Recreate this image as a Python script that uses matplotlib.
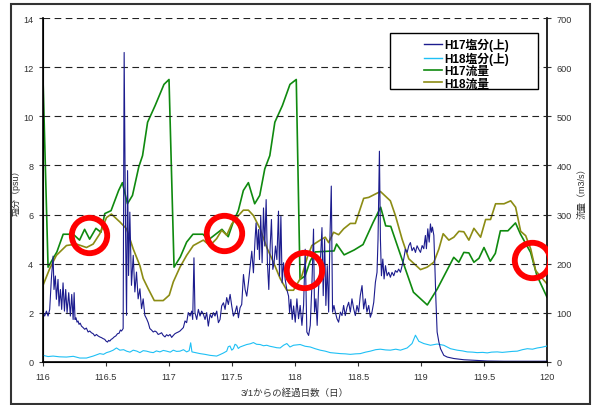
import numpy as np
import matplotlib
matplotlib.use('Agg')
import matplotlib.pyplot as plt
from matplotlib.lines import Line2D
from matplotlib.patches import Rectangle
from matplotlib.ticker import MultipleLocator, FuncFormatter

plt.rcParams['font.family'] = ['Liberation Sans', 'Noto Sans CJK JP']

# H17 塩分(上) [psu]
sal17_day = np.array([
    116.000, 116.013, 116.027, 116.040, 116.053, 116.066, 116.080, 116.087, 116.098, 116.106,
    116.119, 116.127, 116.138, 116.148, 116.159, 116.170, 116.180, 116.191, 116.204, 116.217,
    116.228, 116.239, 116.247, 116.254, 116.262, 116.270, 116.278, 116.286, 116.295, 116.305,
    116.318, 116.331, 116.344, 116.358, 116.371, 116.384, 116.398, 116.411, 116.424, 116.437,
    116.450, 116.464, 116.477, 116.490, 116.500, 116.512, 116.521, 116.530, 116.541, 116.551,
    116.565, 116.578, 116.591, 116.604, 116.614, 116.623, 116.636, 116.644, 116.655, 116.663,
    116.671, 116.679, 116.689, 116.702, 116.716, 116.729, 116.742, 116.755, 116.769, 116.782,
    116.795, 116.808, 116.822, 116.835, 116.848, 116.861, 116.875, 116.888, 116.901, 116.914,
    116.928, 116.941, 116.954, 116.968, 116.981, 116.994, 117.008, 117.021, 117.034, 117.047,
    117.061, 117.074, 117.087, 117.100, 117.114, 117.127, 117.140, 117.153, 117.167, 117.180,
    117.188, 117.198, 117.206, 117.220, 117.233, 117.246, 117.259, 117.273, 117.286, 117.299,
    117.312, 117.326, 117.339, 117.352, 117.365, 117.379, 117.392, 117.405, 117.418, 117.432,
    117.445, 117.458, 117.471, 117.485, 117.498, 117.511, 117.524, 117.538, 117.551, 117.564,
    117.577, 117.591, 117.604, 117.617, 117.630, 117.644, 117.657, 117.670, 117.683, 117.691,
    117.702, 117.710, 117.718, 117.728, 117.739, 117.750, 117.760, 117.771, 117.781, 117.792,
    117.803, 117.813, 117.824, 117.834, 117.845, 117.856, 117.869, 117.877, 117.888, 117.898,
    117.909, 117.922, 117.935, 117.949, 117.957, 117.967, 117.978, 117.989, 118.002, 118.015,
    118.028, 118.041, 118.055, 118.068, 118.081, 118.094, 118.108, 118.121, 118.134, 118.147,
    118.155, 118.166, 118.176, 118.187, 118.200, 118.214, 118.224, 118.235, 118.245, 118.256,
    118.267, 118.277, 118.288, 118.298, 118.309, 118.320, 118.333, 118.346, 118.360, 118.373,
    118.386, 118.399, 118.413, 118.426, 118.439, 118.452, 118.466, 118.479, 118.492, 118.505,
    118.518, 118.532, 118.545, 118.558, 118.571, 118.585, 118.598, 118.611, 118.625, 118.638,
    118.651, 118.659, 118.670, 118.678, 118.686, 118.697, 118.707, 118.718, 118.731, 118.744,
    118.757, 118.770, 118.784, 118.797, 118.810, 118.823, 118.837, 118.850, 118.863, 118.876,
    118.890, 118.903, 118.916, 118.929, 118.943, 118.956, 118.969, 118.982, 118.996, 119.009,
    119.022, 119.035, 119.043, 119.054, 119.065, 119.075, 119.083, 119.091, 119.102, 119.110,
    119.118, 119.128, 119.142, 119.155, 119.181, 119.208, 119.261, 119.341, 119.420, 119.526,
    119.658, 119.800, 120.000])
sal17 = np.array([
    2.01, 1.87, 2.07, 1.87, 2.14, 3.36, 4.31, 2.95, 3.50, 2.55,
    3.36, 2.28, 2.95, 2.14, 3.22, 2.07, 2.95, 2.01, 2.82, 1.87,
    2.75, 1.73, 2.82, 1.73, 1.80, 1.62, 1.67, 1.53, 1.58, 1.46,
    1.40, 1.33, 1.38, 1.22, 1.26, 1.19, 1.15, 1.06, 1.12, 1.06,
    1.02, 0.99, 0.95, 0.92, 0.85, 0.81, 0.88, 0.85, 0.92, 0.95,
    1.02, 1.06, 1.15, 1.17, 1.30, 1.26, 1.36, 12.60, 5.28, 1.90,
    7.79, 3.52, 6.10, 3.12, 4.34, 2.85, 3.66, 2.57, 2.98, 2.17,
    2.57, 1.90, 1.76, 1.60, 1.36, 1.30, 1.22, 1.26, 1.22, 1.12,
    1.15, 1.19, 1.08, 1.02, 1.11, 1.06, 1.12, 1.00, 1.08, 1.15,
    1.19, 1.22, 1.26, 1.33, 1.40, 1.67, 1.60, 2.01, 1.87, 2.07,
    1.73, 4.24, 2.01, 1.73, 2.14, 1.87, 2.07, 1.94, 1.73, 2.01,
    1.46, 1.94, 1.80, 2.01, 1.87, 2.07, 1.60, 1.73, 2.28, 2.41,
    2.14, 2.62, 2.34, 2.75, 2.28, 1.87, 2.01, 2.28, 1.80, 2.21,
    2.34, 3.56, 2.95, 2.68, 3.22, 3.90, 4.51, 3.63, 4.99, 5.66,
    4.58, 5.39, 4.17, 5.93, 4.04, 6.27, 4.72, 6.61, 4.04, 2.95,
    4.72, 5.80, 3.77, 4.04, 4.72, 4.17, 6.14, 3.50, 5.93, 3.22,
    4.04, 3.36, 2.95, 2.68, 2.01, 2.55, 1.73, 2.28, 1.62, 2.57,
    1.76, 2.30, 1.49, 2.30, 4.59, 1.22, 1.08, 1.49, 3.11, 5.41,
    2.03, 2.57, 1.49, 2.97, 3.92, 5.47, 2.70, 5.00, 2.30, 3.92,
    2.03, 5.00, 7.16, 2.03, 2.30, 2.03, 1.76, 1.62, 2.03, 1.89,
    2.30, 1.89, 2.23, 2.43, 2.03, 2.57, 2.16, 1.89, 2.30, 2.03,
    2.70, 3.11, 2.16, 2.57, 2.03, 2.30, 1.82, 2.03, 2.43, 3.24,
    3.65, 5.00, 8.58, 5.00, 3.51, 4.19, 3.38, 3.92, 3.51, 3.65,
    3.45, 3.65, 3.51, 3.72, 3.65, 3.78, 3.65, 3.92, 4.19, 4.59,
    4.46, 4.73, 4.86, 4.53, 4.66, 4.46, 4.73, 4.59, 4.46, 4.74,
    4.61, 5.15, 4.61, 5.42, 4.88, 5.62, 5.28, 5.49, 5.15, 3.93,
    2.57, 1.22, 0.81, 0.54, 0.27, 0.20, 0.14, 0.09, 0.07, 0.04,
    0.03, 0.03, 0.03])

# H18 塩分(上) [psu]
sal18_day = np.array([
    116.000, 116.040, 116.080, 116.130, 116.186, 116.240, 116.292, 116.345, 116.398, 116.430,
    116.451, 116.480, 116.504, 116.530, 116.557, 116.583, 116.610, 116.640, 116.663, 116.690,
    116.716, 116.745, 116.769, 116.795, 116.822, 116.850, 116.875, 116.900, 116.928, 116.955,
    116.981, 117.010, 117.034, 117.060, 117.087, 117.115, 117.140, 117.160, 117.172, 117.182,
    117.210, 117.246, 117.285, 117.325, 117.378, 117.405, 117.430, 117.458, 117.470, 117.484,
    117.498, 117.511, 117.524, 117.537, 117.550, 117.564, 117.590, 117.617, 117.645, 117.670,
    117.695, 117.723, 117.750, 117.776, 117.800, 117.829, 117.855, 117.882, 117.909, 117.935,
    117.960, 117.988, 118.041, 118.080, 118.121, 118.160, 118.200, 118.240, 118.280, 118.320,
    118.360, 118.400, 118.439, 118.480, 118.518, 118.560, 118.598, 118.640, 118.677, 118.720,
    118.757, 118.800, 118.837, 118.890, 118.929, 118.956, 118.983, 119.022, 119.075, 119.128,
    119.181, 119.234, 119.287, 119.330, 119.367, 119.410, 119.446, 119.490, 119.526, 119.560,
    119.605, 119.645, 119.685, 119.725, 119.764, 119.805, 119.844, 119.885, 119.923, 119.960,
    120.000])
sal18 = np.array([
    0.27, 0.22, 0.24, 0.21, 0.20, 0.23, 0.16, 0.16, 0.24, 0.30,
    0.34, 0.31, 0.38, 0.42, 0.48, 0.57, 0.48, 0.50, 0.44, 0.40,
    0.48, 0.44, 0.38, 0.46, 0.44, 0.40, 0.38, 0.45, 0.41, 0.47,
    0.44, 0.40, 0.48, 0.43, 0.44, 0.50, 0.41, 0.46, 0.78, 0.41,
    0.38, 0.34, 0.31, 0.27, 0.24, 0.30, 0.36, 0.44, 0.62, 0.65,
    0.48, 0.54, 0.72, 0.68, 0.55, 0.61, 0.66, 0.71, 0.74, 0.79,
    0.72, 0.71, 0.66, 0.68, 0.64, 0.61, 0.58, 0.57, 0.68, 0.75,
    0.61, 0.68, 0.71, 0.64, 0.61, 0.54, 0.48, 0.44, 0.38, 0.36,
    0.34, 0.33, 0.31, 0.33, 0.34, 0.40, 0.44, 0.50, 0.52, 0.49,
    0.48, 0.52, 0.48, 0.57, 0.75, 1.09, 0.84, 0.75, 0.68, 0.73,
    0.68, 0.54, 0.48, 0.45, 0.41, 0.40, 0.38, 0.39, 0.37, 0.40,
    0.41, 0.39, 0.41, 0.43, 0.44, 0.50, 0.54, 0.52, 0.57, 0.60,
    0.65])

# H17 流量 [m3/s]
flow17_day = np.array([
    116.00, 116.04, 116.11, 116.16, 116.24, 116.29, 116.33, 116.37, 116.42, 116.46,
    116.49, 116.54, 116.60, 116.63, 116.67, 116.71, 116.76, 116.79, 116.83, 116.89,
    116.96, 117.00, 117.04, 117.09, 117.14, 117.19, 117.27, 117.31, 117.37, 117.42,
    117.47, 117.51, 117.55, 117.59, 117.63, 117.68, 117.72, 117.76, 117.80, 117.84,
    117.90, 117.96, 118.01, 118.04, 118.08, 118.12, 118.16, 118.31, 118.33, 118.39,
    118.47, 118.54, 118.62, 118.68, 118.72, 118.76, 118.84, 118.94, 119.05, 119.13,
    119.26, 119.30, 119.34, 119.38, 119.42, 119.46, 119.50, 119.55, 119.59, 119.63,
    119.69, 119.75, 119.79, 119.87, 119.92, 120.00])
flow17 = np.array([
    576, 193, 224, 260, 260, 248, 270, 250, 272, 264,
    302, 308, 349, 365, 322, 339, 397, 420, 488, 522,
    565, 575, 193, 214, 244, 260, 260, 248, 260, 270,
    255, 285, 308, 349, 365, 322, 339, 393, 420, 488,
    522, 565, 575, 168, 175, 205, 224, 226, 240, 218,
    228, 239, 284, 315, 277, 276, 216, 142, 116, 149,
    213, 203, 223, 222, 203, 211, 233, 205, 221, 267,
    267, 283, 260, 223, 176, 132])

# H18 流量 [m3/s]
flow18_day = np.array([
    116.000, 116.053, 116.106, 116.186, 116.265, 116.345, 116.398, 116.451, 116.504, 116.543,
    116.610, 116.663, 116.716, 116.769, 116.795, 116.835, 116.883, 116.954, 117.002, 117.034,
    117.087, 117.140, 117.193, 117.272, 117.325, 117.378, 117.418, 117.458, 117.498, 117.551,
    117.590, 117.630, 117.670, 117.723, 117.776, 117.829, 117.882, 117.935, 117.988, 118.054,
    118.100, 118.134, 118.200, 118.240, 118.267, 118.306, 118.346, 118.386, 118.439, 118.479,
    118.545, 118.585, 118.678, 118.757, 118.797, 118.850, 118.903, 118.996, 119.049, 119.102,
    119.142, 119.176, 119.221, 119.261, 119.301, 119.340, 119.380, 119.420, 119.473, 119.513,
    119.552, 119.592, 119.659, 119.712, 119.751, 119.791, 119.831, 119.871, 119.910, 120.000])
flow18 = np.array([
    156, 190, 217, 237, 240, 233, 240, 261, 294, 301,
    285, 271, 230, 196, 170, 149, 125, 125, 136, 163,
    193, 217, 237, 248, 237, 251, 268, 258, 281, 298,
    309, 309, 298, 271, 233, 203, 170, 146, 146, 175,
    215, 237, 248, 254, 243, 264, 259, 271, 282, 282,
    333, 335, 347, 328, 298, 250, 210, 188, 193, 203,
    230, 261, 248, 254, 266, 265, 248, 272, 254, 290,
    290, 322, 322, 328, 315, 266, 257, 230, 186, 159])

# 赤丸の位置 (日, psu)
mark_day = [116.364, 117.44, 118.075, 119.885]
mark_psu = [5.18, 5.25, 3.75, 4.14]

fig = plt.figure(figsize=(5.95, 4.06), dpi=100)
ax = fig.add_axes([0.0723, 0.106, 0.8470, 0.847])
ax2 = ax.twinx()

ax2.plot(flow17_day, flow17, color='#0f8a0f', lw=1.2)
ax2.plot(flow18_day, flow18, color='#8c8c14', lw=1.2)
ax2.set_ylim(0, 700)
ax2.yaxis.set_major_locator(MultipleLocator(100))

ax.set_zorder(ax2.get_zorder() + 1)
ax.patch.set_visible(False)

ax.plot(sal18_day, sal18, color='#1ec0f5', lw=0.8)
ax.plot(sal17_day, sal17, color='#1c1c8e', lw=0.8)
ax.plot(mark_day, mark_psu, 'o', ms=25.5, mfc='none', mec='#ff0000', mew=4.2, zorder=5)

ax.set_xlim(116, 120)
ax.set_ylim(0, 14)
ax.xaxis.set_major_locator(MultipleLocator(0.5))
ax.xaxis.set_major_formatter(FuncFormatter(lambda v, p: '%g' % v))
ax.yaxis.set_major_locator(MultipleLocator(2))
ax.grid(axis='y', color='#222222', ls=(0, (6, 4)), lw=0.8)

for a in (ax, ax2):
    a.spines['top'].set_visible(False)
    a.tick_params(direction='out', length=3, width=0.8, labelsize=6.6, colors='#333333', pad=4)
ax.spines['left'].set_linewidth(1.2)
ax.spines['bottom'].set_linewidth(1.2)
ax2.spines['right'].set_linewidth(1.2)
ax.spines['right'].set_visible(False)

ax.set_xlabel('3/1からの経過日数（日）', fontsize=6.8, color='#333333', labelpad=5)
ax.set_ylabel('塩分（psu）', fontsize=6.5, color='#333333', labelpad=2)
ax2.set_ylabel('流量（m3/s）', fontsize=6.5, color='#333333', labelpad=4, rotation=90)

# 凡例
ax.add_patch(Rectangle((0.688, 0.794), 0.294, 0.162, transform=ax.transAxes,
                       facecolor='white', edgecolor='black', lw=1.0, zorder=6))
handles = [Line2D([], [], color='#1c1c8e', lw=1),
           Line2D([], [], color='#1ec0f5', lw=1),
           Line2D([], [], color='#0f8a0f', lw=1.2),
           Line2D([], [], color='#8c8c14', lw=1.2)]
labels = ['H17塩分(上)', 'H18塩分(上)', 'H17流量', 'H18流量']
leg = ax.legend(handles, labels, loc='upper left', bbox_to_anchor=(0.742, 0.962),
                frameon=False, handlelength=1.5, handletextpad=0.25,
                labelspacing=0.02, borderpad=0.1, prop={'weight': 'bold', 'size': 8.5})
leg.set_zorder(7)

fig.add_artist(Rectangle((0.0185, 0.003), 0.973, 0.985, transform=fig.transFigure,
                         facecolor='none', edgecolor='#333333', lw=1.5))

fig.savefig('out.png', dpi=100)
